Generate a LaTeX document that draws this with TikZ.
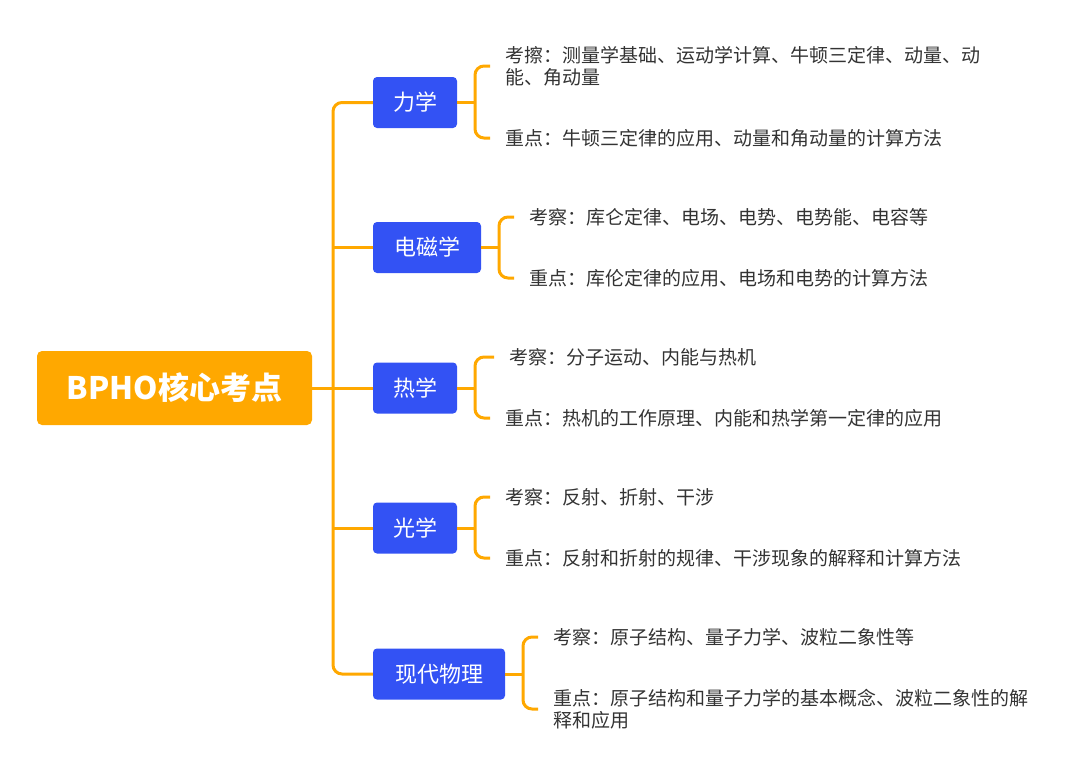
\documentclass[tikz,border=0pt]{standalone}
\usepackage{fontspec}
\setmainfont{Noto Sans CJK SC}
\definecolor{org}{HTML}{FFA800}
\definecolor{blu}{HTML}{3352F4}
\definecolor{txt}{HTML}{333333}
\begin{document}
\begin{tikzpicture}[x=1pt,y=-1pt,
  topic/.style={fill=blu,rounded corners=4,text=white,font=\fontsize{22}{26}\selectfont,inner sep=0,minimum height=51},
  leaf/.style={anchor=west,inner sep=0,text=txt,font=\fontsize{19}{22}\selectfont,align=left},
  ln/.style={draw=org,line width=3,rounded corners=9}]
\useasboundingbox (0,0) rectangle (1080,777);
\node[fill=org,rounded corners=5,minimum width=275,minimum height=74,text=white,font=\bfseries\fontsize{31}{36}\selectfont,inner sep=0] (root) at (174.5,388) {BPHO核心考点};
\node[topic,minimum width=84] (n1) at (415,102.5) {力学};
\node[topic,minimum width=108] (n2) at (427,247.5) {电磁学};
\node[topic,minimum width=84] (n3) at (415,388) {热学};
\node[topic,minimum width=84] (n4) at (415,528) {光学};
\node[topic,minimum width=132] (n5) at (439,674) {现代物理};
\draw[ln] (n1.west) -- (333,102.5) -- (333,674) -- (n5.west);
\draw[ln] (root.east) -- (n3.west);
\draw[ln] (333,247.5) -- (n2.west);
\draw[ln] (333,528) -- (n4.west);
% leaves
\node[leaf] (a1) at (505,66) {考擦：测量学基础、运动学计算、牛顿三定律、动量、动\\能、角动量};
\node[leaf] (b1) at (505,138) {重点：牛顿三定律的应用、动量和角动量的计算方法};
\node[leaf] (a2) at (529,217) {考察：库仑定律、电场、电势、电势能、电容等};
\node[leaf] (b2) at (529,278) {重点：库伦定律的应用、电场和电势的计算方法};
\node[leaf] (a3) at (509,357) {考察：分子运动、内能与热机};
\node[leaf] (b3) at (505,418) {重点：热机的工作原理、内能和热学第一定律的应用};
\node[leaf] (a4) at (505,497) {考察：反射、折射、干涉};
\node[leaf] (b4) at (505,558) {重点：反射和折射的规律、干涉现象的解释和计算方法};
\node[leaf] (a5) at (553,637) {考察：原子结构、量子力学、波粒二象性等};
\node[leaf] (b5) at (553,709) {重点：原子结构和量子力学的基本概念、波粒二象性的解\\释和应用};
\foreach \n/\bx in {1/475,2/499,3/475,4/475,5/523}{
  \draw[ln] ([xshift=-15]a\n.west) -- (\bx,{0}|-a\n.west) -- (\bx,{0}|-b\n.west) -- ([xshift=-15]b\n.west);
  \draw[ln] (n\n.east) -- (\bx,{0}|-n\n.east);
}
\end{tikzpicture}
\end{document}
